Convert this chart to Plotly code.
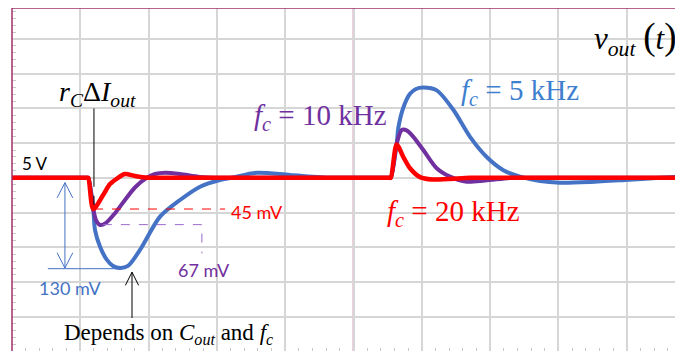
import plotly.graph_objects as go

# time in scope divisions, voltage = deviation from 5 V in mV (50 mV/div)
t_blue = [0, 1.10, 1.117, 1.19, 1.215, 1.288, 1.387, 1.479, 1.581, 1.698, 1.874, 2.167, 2.46, 2.753, 3.045, 3.221, 3.583, 4.07, 4.656, 4.8,
          5.52, 5.545, 5.632, 5.656, 5.729, 5.827, 5.915, 6.022, 6.218, 6.461, 6.706, 6.95, 7.193, 7.438, 7.731, 8.023, 8.463, 8.975, 9.488, 9.83]
v_blue = [0, 0, 0, -45, -75, -99, -118, -127, -130, -127, -104, -56, -32, -12.8, -3.2, 0, 7.3, 4, 0, 0,
          0, 0, 49, 72, 101, 121, 128, 130, 126, 98, 59, 30, 11, 1.6, -4.6, -7, -6, -3.2, 0, 2]

t_purple = [0, 1.10, 1.117, 1.19, 1.23, 1.288, 1.376, 1.508, 1.654, 1.80, 1.972, 2.094, 2.24, 2.46, 2.753, 3.075, 3.2,
            5.52, 5.545, 5.632, 5.706, 5.783, 5.876, 6.022, 6.218, 6.413, 6.657, 6.925, 7.321, 7.45, 9.83]
v_purple = [0, 0, 0, -45, -61, -68, -65, -51, -32, -14, 0, 5.5, 7.3, 5.5, 1.2, 0, 0,
            0, 0, 49, 69, 68, 59, 40, 13.7, 1.6, -5.6, -3.9, 0, 0, 0]

t_red = [0, 1.10, 1.117, 1.19, 1.332, 1.435, 1.552, 1.654, 1.80, 1.99, 2.1,
         5.52, 5.545, 5.632, 5.729, 5.827, 5.974, 6.149, 6.384, 6.706, 6.85, 9.83]
v_red = [0, 0, 0, -45, -25, -9, 0, 5.5, 2.6, 0, 0,
         0, 0, 48, 30, 13.7, 1, -2.5, -1.7, 0, 0, 0]

BLUE = "#4472C4"
PURPLE = "#7030A0"
RED = "#FF0000"
MAROON = "#A0306A"
SERIF = "Liberation Serif, Times New Roman, serif"
SANS = "Lato, Open Sans, sans-serif"

fig = go.Figure()
for t, v, c, w in [(t_blue, v_blue, BLUE, 4), (t_purple, v_purple, PURPLE, 4), (t_red, v_red, RED, 4.5)]:
    fig.add_trace(go.Scatter(x=t, y=v, mode="lines", line=dict(color=c, width=w, shape="spline", smoothing=0.8),
                             hoverinfo="skip", showlegend=False))

shapes = [
    # frame & centre axes
    dict(type="line", xref="paper", yref="paper", x0=0, x1=0, y0=0, y1=1, line=dict(color=MAROON, width=1.5)),
    dict(type="line", xref="paper", yref="paper", x0=0, x1=1, y0=1, y1=1, line=dict(color=MAROON, width=1.5)),
    dict(type="line", xref="x", yref="paper", x0=5, x1=5, y0=0, y1=1, line=dict(color="#B0407F", width=1.5), layer="below"),
    dict(type="line", xref="paper", yref="y", x0=0, x1=1, y0=0, y1=0, line=dict(color="#A0306A", width=1), layer="below"),
    # r_C dI_out marker
    dict(type="line", x0=1.2, x1=1.2, y0=100, y1=0, line=dict(color="black", width=1)),
    dict(type="line", x0=1.2, x1=1.2, y0=0, y1=-45, line=dict(color="black", width=1, dash="dash")),
    # 45 mV
    dict(type="line", x0=1.2, x1=3.12, y0=-45, y1=-45, line=dict(color=RED, width=1, dash="dash")),
    # 67 mV
    dict(type="path", path="M 1.33,-67.5 L 2.78,-67.5 L 2.78,-109", line=dict(color="#9B6BCB", width=1, dash="dash")),
    # 130 mV double arrow
    dict(type="line", x0=0.775, x1=0.775, y0=-7, y1=-130, line=dict(color=BLUE, width=1)),
    dict(type="path", path="M 0.66,-29 L 0.775,-7 L 0.89,-29", line=dict(color=BLUE, width=1)),
    dict(type="path", path="M 0.66,-108 L 0.775,-130 L 0.89,-108", line=dict(color=BLUE, width=1)),
    dict(type="line", x0=0.525, x1=1.6, y0=-131, y1=-131, line=dict(color=BLUE, width=1)),
    # depends arrow
    dict(type="line", x0=1.757, x1=1.757, y0=-202, y1=-136, line=dict(color="black", width=1)),
    dict(type="path", path="M 1.66,-155 L 1.757,-136 L 1.854,-155", line=dict(color="black", width=1)),
]

annotations = [
    dict(x=0.117, y=21, text="5 V", xanchor="left", font=dict(family=SANS, size=17, color="black")),
    dict(x=1.245, y=122, text="<i>r</i><sub><i>C</i></sub>Δ<i>I</i><sub><i>out</i></sub>",
         font=dict(family=SERIF, size=28, color="black")),
    dict(x=4.52, y=88, text="<i>f</i><sub><i>c</i></sub> = 10 kHz", font=dict(family=SERIF, size=29, color=PURPLE)),
    dict(x=7.44, y=124, text="<i>f</i><sub><i>c</i></sub> = 5 kHz", font=dict(family=SERIF, size=29, color="#3F7FCF")),
    dict(x=9.77, y=201, xanchor="right",
         text="<i>v</i><sub><i>out</i></sub> <span style='font-size:37px'>(</span><i>t</i><span style='font-size:37px'>)</span>",
         font=dict(family=SERIF, size=31, color="black")),
    dict(x=6.47, y=-51, text="<i>f</i><sub><i>c</i></sub> = 20 kHz", font=dict(family=SERIF, size=29, color=RED)),
    dict(x=3.58, y=-49, text="45 mV", font=dict(family=SANS, size=18, color=RED)),
    dict(x=2.81, y=-133, text="67 mV", font=dict(family=SANS, size=18, color=PURPLE)),
    dict(x=0.85, y=-159, text="130 mV", font=dict(family=SANS, size=18, color=BLUE)),
    dict(x=2.29, y=-225, text="Depends on <i>C</i><sub><i>out</i></sub> and <i>f</i><sub><i>c</i></sub>",
         font=dict(family=SERIF, size=23, color="black")),
]
for a in annotations:
    a.update(showarrow=False, xref="x", yref="y")

# page body adds an 8 px margin; figure is sized so the plot lands where the reference frame is
fig.update_layout(
    width=675, height=343,
    margin=dict(l=4, r=0, t=0, b=0),
    paper_bgcolor="white", plot_bgcolor="white",
    shapes=shapes, annotations=annotations,
    xaxis=dict(range=[0, 9.824], dtick=1, tick0=0, showgrid=True, gridcolor="#D6D6D6", gridwidth=1.5,
               zeroline=False, showticklabels=False, ticks="", showline=False,
               minor=dict(ticks="inside", ticklen=3, dtick=0.2, tickcolor="#C8C8C8", showgrid=False)),
    yaxis=dict(range=[-249.6, 244.7], dtick=50, tick0=0, showgrid=True, gridcolor="#D6D6D6", gridwidth=1.5,
               zeroline=False, showticklabels=False, ticks="", showline=False,
               minor=dict(ticks="inside", ticklen=4, dtick=10, tickcolor="#C8C8C8", showgrid=False)),
)

fig.write_html("out.html")
